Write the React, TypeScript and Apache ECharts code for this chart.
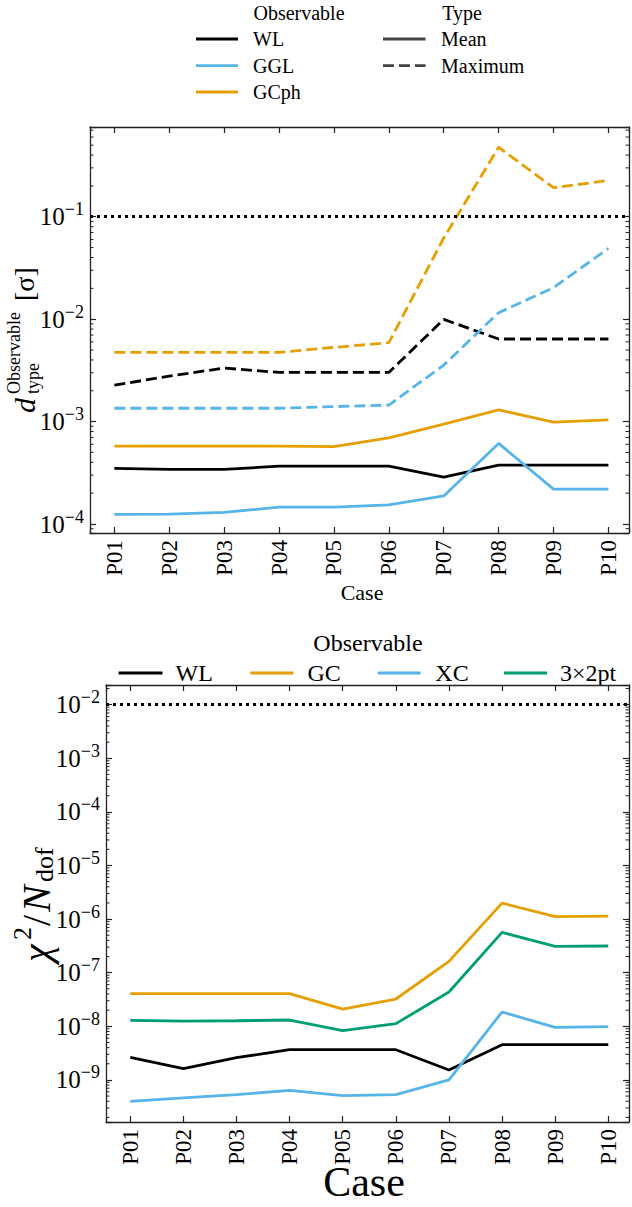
import React, { useEffect, useRef } from 'react';
import * as echarts from 'echarts';

const CASES = ['P01', 'P02', 'P03', 'P04', 'P05', 'P06', 'P07', 'P08', 'P09', 'P10'];

// Top panel: d_type^Observable [sigma]
const WL_MEAN = [3.49e-4, 3.41e-4, 3.41e-4, 3.67e-4, 3.67e-4, 3.67e-4, 2.87e-4, 3.76e-4, 3.76e-4, 3.76e-4];
const GGL_MEAN = [1.24e-4, 1.25e-4, 1.30e-4, 1.46e-4, 1.46e-4, 1.54e-4, 1.88e-4, 6.12e-4, 2.19e-4, 2.19e-4];
const GCPH_MEAN = [5.77e-4, 5.77e-4, 5.77e-4, 5.77e-4, 5.7e-4, 6.95e-4, 9.46e-4, 1.30e-3, 9.89e-4, 1.04e-3];
const WL_MAX = [2.27e-3, 2.78e-3, 3.33e-3, 3.02e-3, 3.02e-3, 3.02e-3, 9.95e-3, 6.4e-3, 6.4e-3, 6.4e-3];
const GGL_MAX = [1.35e-3, 1.35e-3, 1.35e-3, 1.35e-3, 1.40e-3, 1.45e-3, 3.56e-3, 1.156e-2, 2.03e-2, 4.91e-2];
const GCPH_MAX = [4.74e-3, 4.74e-3, 4.74e-3, 4.74e-3, 5.3e-3, 5.89e-3, 6.2e-2, 0.477, 0.192, 0.226];
const TOP_THRESHOLD = 0.1;

// Bottom panel: chi^2 / N_dof
const WL_CHI = [2.63e-9, 1.62e-9, 2.6e-9, 3.66e-9, 3.66e-9, 3.66e-9, 1.53e-9, 4.54e-9, 4.54e-9, 4.54e-9];
const GC_CHI = [4.06e-8, 4.06e-8, 4.06e-8, 4.06e-8, 2.1e-8, 3.23e-8, 1.63e-7, 1.99e-6, 1.11e-6, 1.14e-6];
const XC_CHI = [3.98e-10, 4.64e-10, 5.3e-10, 6.4e-10, 5.1e-10, 5.3e-10, 1.0e-9, 1.85e-8, 9.55e-9, 9.9e-9];
const X32_CHI = [1.29e-8, 1.25e-8, 1.27e-8, 1.31e-8, 8.3e-9, 1.12e-8, 4.36e-8, 5.65e-7, 3.1e-7, 3.15e-7];
const BOTTOM_THRESHOLD = 1e-2;

const MINOR_MULT = [2, 3, 4, 5, 6, 7, 8, 9];
const TOP_DECADES = [-5, -4, -3, -2, -1];
const BOTTOM_DECADES = [-10, -9, -8, -7, -6, -5, -4, -3, -2];

const FONT = 'Liberation Serif';
const BLACK = '#000000';
const BLUE = '#56B4E9';
const ORANGE = '#E69F00';
const GREEN = '#009E73';
const FRAME = '#222222';
const DASH = [11, 5];

const TOP_Y = { min: 8.17e-5, max: 0.752 };
const BOT_Y = { min: 1.64e-10, max: 0.0233 };
const TOP_X = { min: -0.444, max: 9.375 };
const BOT_X = { min: -0.457, max: 9.39 };

const pairs = (vals: number[]) => vals.map((v, i) => [i, v]);

const expLabel = (v: number) => {
  const e = Math.log10(v);
  const r = Math.round(e);
  if (Math.abs(e - r) > 1e-6) return '';
  return `{b|10}{s|${r < 0 ? '\u2212' : ''}${Math.abs(r)}}`;
};

const caseLabel = (v: number) => {
  const r = Math.round(v);
  if (Math.abs(v - r) > 1e-6 || r < 0 || r >= CASES.length) return '';
  return CASES[r];
};

function minorValues(decades: number[], min: number, max: number) {
  const out: number[][] = [];
  decades.forEach((d) => {
    MINOR_MULT.forEach((m) => {
      const v = m * Math.pow(10, d);
      if (v > min && v < max) out.push([0, v]);
    });
  });
  return out;
}

function minorSeries(idx: number, decades: number[], range: { min: number; max: number }) {
  return {
    type: 'custom',
    xAxisIndex: idx,
    yAxisIndex: idx,
    silent: true,
    z: 5,
    data: minorValues(decades, range.min, range.max),
    renderItem: (params: any, api: any) => {
      const cs = params.coordSys;
      const y = api.coord([0, api.value(1)])[1];
      const st = { stroke: FRAME, lineWidth: 1 };
      return {
        type: 'group',
        children: [
          { type: 'line', shape: { x1: cs.x, y1: y, x2: cs.x + 3.5, y2: y }, style: st },
          { type: 'line', shape: { x1: cs.x + cs.width - 3.5, y1: y, x2: cs.x + cs.width, y2: y }, style: st },
        ],
      };
    },
  };
}

function xAxes(grid: number, range: { min: number; max: number }, fontSize: number) {
  const common = {
    gridIndex: grid,
    type: 'value',
    min: range.min,
    max: range.max,
    splitNumber: 10,
    splitLine: { show: false },
    axisLine: { show: true, onZero: false, lineStyle: { color: FRAME, width: 1.3 } },
    axisTick: { show: true, inside: true, length: 6, lineStyle: { color: FRAME, width: 1.2 } },
  };
  return [
    {
      ...common,
      position: 'bottom',
      axisLabel: {
        show: true,
        rotate: 90,
        margin: 7,
        formatter: caseLabel,
        fontFamily: FONT,
        fontSize,
        color: '#000',
      },
    },
    { ...common, position: 'top', axisLabel: { show: false } },
  ];
}

function yAxes(grid: number, range: { min: number; max: number }, fontSize: number) {
  const sup = Math.round(fontSize * 0.7);
  const common = {
    gridIndex: grid,
    type: 'log',
    logBase: 10,
    min: range.min,
    max: range.max,
    splitLine: { show: false },
    axisLine: { show: true, onZero: false, lineStyle: { color: FRAME, width: 1.3 } },
    axisTick: { show: true, inside: true, length: 6, lineStyle: { color: FRAME, width: 1.2 } },
  };
  return [
    {
      ...common,
      position: 'left',
      axisLabel: {
        show: true,
        margin: 6,
        formatter: expLabel,
        color: '#000',
        rich: {
          b: { fontFamily: FONT, fontSize, color: '#000', lineHeight: fontSize + 8 },
          s: { fontFamily: FONT, fontSize: sup, color: '#000', verticalAlign: 'top', lineHeight: sup },
        },
      },
    },
    { ...common, position: 'right', axisLabel: { show: false } },
  ];
}

function lineSeries(idx: number, vals: number[], color: string, dashed: boolean, z: number) {
  return {
    type: 'line',
    xAxisIndex: idx,
    yAxisIndex: idx,
    data: pairs(vals),
    showSymbol: false,
    symbol: 'none',
    z,
    lineStyle: { color, width: 2.8, type: dashed ? DASH : 'solid', cap: 'butt' },
  };
}

function thresholdSeries(idx: number, value: number) {
  return {
    type: 'line',
    xAxisIndex: idx,
    yAxisIndex: idx,
    data: [],
    markLine: {
      silent: true,
      symbol: ['none', 'none'],
      label: { show: false },
      lineStyle: { color: '#000', width: 3, type: [3, 4], cap: 'butt' },
      data: [{ yAxis: value }],
    },
  };
}

const txt = (text: string, x: number, y: number, fontSize: number, align = 'left', extra: any = {}) => ({
  type: 'text',
  x,
  y,
  silent: true,
  style: { text, x: 0, y: 0, fontFamily: FONT, fontSize, fill: '#000', align, verticalAlign: 'middle', ...extra },
});

const seg = (x1: number, x2: number, y: number, color: string, dashed = false) => ({
  type: 'line',
  silent: true,
  shape: { x1, y1: y, x2, y2: y },
  style: { stroke: color, lineWidth: 2.8, lineDash: dashed ? DASH : null, lineCap: 'butt' },
});

export default function App() {
  const ref = useRef<HTMLDivElement>(null);
  useEffect(() => {
    document.body.style.margin = '0';
    if (!ref.current) return;
    const chart = echarts.init(ref.current, undefined, { renderer: 'svg' });
    const option: any = {
      animation: false,
      backgroundColor: '#ffffff',
      grid: [
        { left: 90, top: 127, width: 539, height: 406 },
        { left: 106, top: 685, width: 523, height: 437 },
      ],
      xAxis: [...xAxes(0, TOP_X, 23), ...xAxes(1, BOT_X, 23)],
      yAxis: [...yAxes(0, TOP_Y, 25), ...yAxes(1, BOT_Y, 25)],
      series: [
        thresholdSeries(0, TOP_THRESHOLD),
        lineSeries(0, WL_MEAN, BLACK, false, 3),
        lineSeries(0, WL_MAX, BLACK, true, 3),
        lineSeries(0, GGL_MEAN, BLUE, false, 3),
        lineSeries(0, GGL_MAX, BLUE, true, 3),
        lineSeries(0, GCPH_MEAN, ORANGE, false, 3),
        lineSeries(0, GCPH_MAX, ORANGE, true, 3),
        minorSeries(0, TOP_DECADES, TOP_Y),
        thresholdSeries(2, BOTTOM_THRESHOLD),
        lineSeries(2, WL_CHI, BLACK, false, 3),
        lineSeries(2, GC_CHI, ORANGE, false, 3),
        lineSeries(2, XC_CHI, BLUE, false, 3),
        lineSeries(2, X32_CHI, GREEN, false, 3),
        minorSeries(2, BOTTOM_DECADES, BOT_Y),
      ],
      graphic: [
        // top legend
        txt('Observable', 299, 13, 20, 'center'),
        seg(196, 238, 39, BLACK),
        txt('WL', 253, 39, 20),
        seg(196, 238, 65.7, BLUE),
        txt('GGL', 253, 65.7, 20),
        seg(196, 238, 92, ORANGE),
        txt('GCph', 253, 92, 20),
        txt('Type', 462, 13, 20, 'center'),
        seg(383, 425.5, 39, '#444444'),
        txt('Mean', 441, 39, 20),
        seg(383, 425.5, 65.7, '#444444', true),
        txt('Maximum', 441, 65.7, 20),
        // top axis titles
        txt('Case', 362, 592, 22, 'center'),
        {
          type: 'group',
          x: 24,
          y: 413,
          rotation: Math.PI / 2,
          silent: true,
          children: [
            txt('d', 0, 0, 30, 'left', { fontStyle: 'italic' }),
            txt('Observable', 19, -10, 18),
            txt('type', 19, 9, 18),
            txt('[\u03C3]', 112, 0, 28),
          ],
        },
        // bottom legend
        txt('Observable', 368, 643, 24, 'center'),
        seg(118.6, 162.5, 673, BLACK),
        txt('WL', 175.5, 673, 24),
        seg(250.3, 293.5, 673, ORANGE),
        txt('GC', 307.5, 673, 24),
        seg(377.8, 420.6, 673, BLUE),
        txt('XC', 435.3, 673, 24),
        seg(504, 547, 673, GREEN),
        txt('3\u00D72pt', 560, 673, 24),
        // bottom axis titles
        txt('Case', 364, 1182, 42, 'center'),
        {
          type: 'group',
          x: 36,
          y: 962,
          rotation: Math.PI / 2,
          silent: true,
          children: [
            txt('\u03C7', 0, 0, 40, 'left', { fontStyle: 'italic' }),
            txt('2', 22, -14, 26),
            txt('/', 36, 0, 40),
            txt('N', 50, 0, 40, 'left', { fontStyle: 'italic' }),
            txt('dof', 80, 8, 26),
          ],
        },
      ],
    };
    chart.setOption(option);
    return () => chart.dispose();
  }, []);
  return <div ref={ref} style={{ width: 632, height: 1207 }} />;
}
